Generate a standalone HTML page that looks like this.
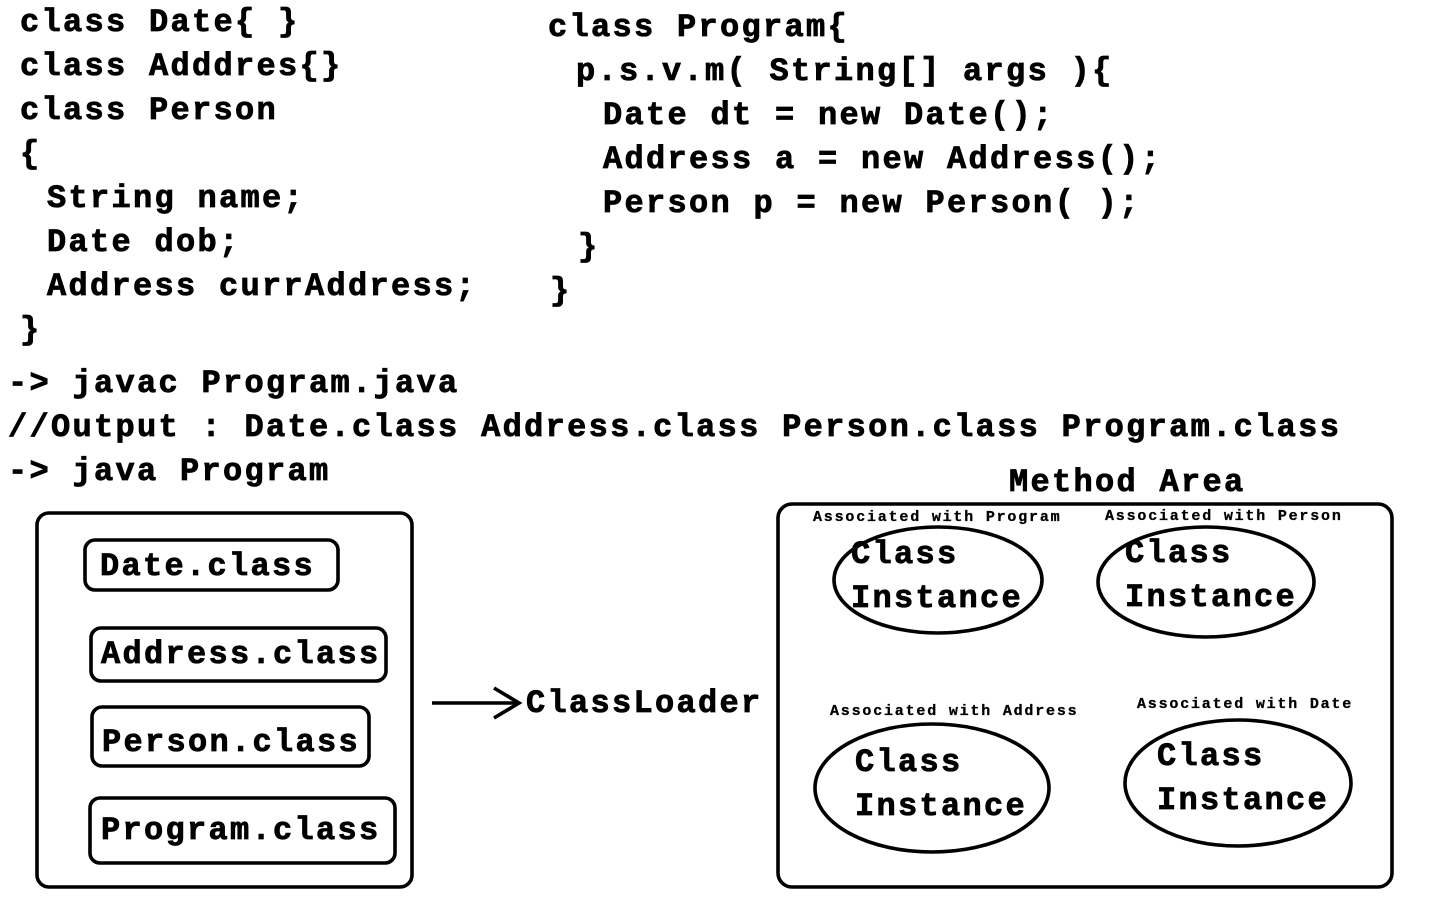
<!DOCTYPE html>
<html><head><style>
html,body{margin:0;padding:0;background:#fff;}
svg{display:block;}
text{font-family:"Liberation Mono",monospace;font-weight:bold;fill:#000;}
.c{font-size:32px;letter-spacing:2.3px;stroke:#000;stroke-width:0.8px;}
.s{font-size:15px;letter-spacing:1.8px;stroke:#000;stroke-width:0.3px;}
</style></head><body>
<svg width="1440" height="900" viewBox="0 0 1440 900" xmlns="http://www.w3.org/2000/svg">
<g class="c">
<text x="20" y="31" class="c">class Date{ }</text>
<text x="20" y="75" class="c">class Adddres{}</text>
<text x="20" y="119" class="c">class Person</text>
<text x="20" y="163" class="c">{</text>
<text x="47" y="207" class="c">String name;</text>
<text x="47" y="251" class="c">Date dob;</text>
<text x="47" y="295" class="c">Address currAddress;</text>
<text x="20" y="339" class="c">}</text>
<text x="8" y="392" class="c">-&gt; javac Program.java</text>
<text x="8" y="436" class="c">//Output : Date.class Address.class Person.class Program.class</text>
<text x="8" y="480" class="c">-&gt; java Program</text>
<text x="548" y="36" class="c">class Program{</text>
<text x="576" y="80" class="c">p.s.v.m( String[] args ){</text>
<text x="603" y="124" class="c">Date dt = new Date();</text>
<text x="603" y="168" class="c">Address a = new Address();</text>
<text x="603" y="212" class="c">Person p = new Person( );</text>
<text x="578" y="256" class="c">}</text>
<text x="550" y="300" class="c">}</text>
</g>
<g fill="none" stroke="#000" stroke-width="3.6">
<rect x="37" y="513" width="375" height="374" rx="12"/>
<rect x="85" y="540" width="253" height="50" rx="10"/>
<rect x="91" y="628" width="295" height="53" rx="10"/>
<rect x="92" y="707" width="277" height="59" rx="10"/>
<rect x="90" y="798" width="305" height="65" rx="10"/>
<rect x="778" y="504" width="614" height="383" rx="14"/>
<ellipse cx="938" cy="580" rx="104" ry="53"/>
<ellipse cx="1206" cy="582" rx="108" ry="55"/>
<ellipse cx="932" cy="788" rx="117" ry="64"/>
<ellipse cx="1238" cy="783" rx="113" ry="63"/>
<line x1="432" y1="703" x2="518" y2="703"/>
<polyline points="494,688 519,703 494,718"/>
</g>
<text x="100" y="575" class="c">Date.class</text>
<text x="101" y="663" class="c">Address.class</text>
<text x="102" y="751" class="c">Person.class</text>
<text x="101" y="839" class="c">Program.class</text>
<text x="526" y="712" class="c">ClassLoader</text>
<text x="1009" y="491" class="c">Method Area</text>
<text x="813" y="521" class="s">Associated with Program</text>
<text x="1105" y="520" class="s">Associated with Person</text>
<text x="830" y="715" class="s">Associated with Address</text>
<text x="1137" y="708" class="s">Associated with Date</text>
<text x="851" y="563" class="c">Class</text>
<text x="851" y="607" class="c">Instance</text>
<text x="1125" y="562" class="c">Class</text>
<text x="1125" y="606" class="c">Instance</text>
<text x="855" y="771" class="c">Class</text>
<text x="855" y="815" class="c">Instance</text>
<text x="1157" y="765" class="c">Class</text>
<text x="1157" y="809" class="c">Instance</text>
</svg>
</body></html>
